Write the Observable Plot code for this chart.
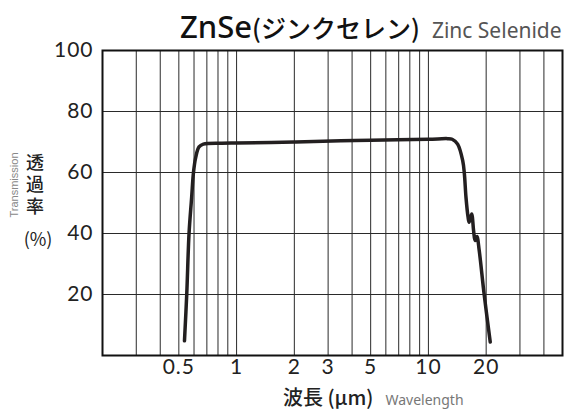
<!DOCTYPE html>
<html><head><meta charset="utf-8">
<script src="https://cdn.jsdelivr.net/npm/d3@7"></script>
<script src="https://cdn.jsdelivr.net/npm/@observablehq/plot@0.6"></script>
<style>body{margin:0;background:#fff} svg{display:block}</style>
</head><body><div id="chart"></div>
<script>
// Transmission curve of ZnSe (wavelength in µm, transmission in %)
const wavelength   = [0.535, 0.550, 0.565, 0.583, 0.596, 0.612, 0.637, 0.671, 0.836, 1.0, 2.0, 3.5, 5.0, 10.0, 12.6, 13.3, 14.2, 15.1, 15.4, 15.7, 16.1, 16.3, 16.8, 17.2, 17.5, 17.9, 18.4, 19.5, 21.0];
const transmission = [4.8, 20.3, 39.9, 51.8, 60.0, 64.9, 68.4, 69.3, 69.6, 69.7, 70.0, 70.4, 70.6, 70.9, 71.1, 70.9, 69.3, 63.8, 59.5, 51.8, 45.3, 43.7, 46.4, 40.9, 37.7, 39.0, 34.4, 20.3, 4.4];
const xTickValues = [0.5, 1, 2, 3, 5, 10, 20];
const xTickLabels = ["0.5", "1", "2", "3", "5", "10", "20"];
const xGridValues = [0.3, 0.4, 0.5, 0.6, 0.7, 0.8, 0.9, 1, 2, 3, 4, 5, 6, 7, 8, 9, 10, 20, 30, 40];
const yTickValues = [20, 40, 60, 80, 100];
const yTickLabels = ["20", "40", "60", "80", "100"];
const yGridValues = [20, 40, 60, 80];

const data = wavelength.map((w, i) => ({w, t: transmission[i]}));
const numFont = "Lato, 'Noto Sans', sans-serif";

const svg = Plot.plot({
  width: 569,
  height: 412,
  marginTop: 50,
  marginLeft: 102,
  marginRight: 7,
  marginBottom: 57,
  style: {fontFamily: numFont, color: "#222", background: "#fff"},
  x: {type: "log", domain: [0.2, 50], axis: null},
  y: {domain: [0, 100], axis: null},
  marks: [
    Plot.ruleX(xGridValues, {stroke: "#2a2a2a", strokeWidth: 1}),
    Plot.ruleY(yGridValues, {stroke: "#2a2a2a", strokeWidth: 1}),
    Plot.line(data, {x: "w", y: "t", stroke: "#231f20", strokeWidth: 3.5, curve: "catmull-rom", strokeLinejoin: "round", strokeLinecap: "round"}),
    Plot.frame({stroke: "#111", strokeWidth: 2}),
    Plot.text(xTickValues, {x: (d) => d, text: (d, i) => xTickLabels[i], frameAnchor: "bottom", dy: 18, fontSize: 21, fill: "#222", className: "ticklbl"}),
    Plot.text(yTickValues, {y: (d) => d, text: (d, i) => yTickLabels[i], frameAnchor: "left", dx: -9, textAnchor: "end", fontSize: 21, fill: "#222", className: "ticklbl"})
  ]
});

const s = d3.select(svg);
s.selectAll(".ticklbl text").style("letter-spacing", "1px");
const jp = "'Noto Sans CJK JP', sans-serif";
const sans = "'Noto Sans', sans-serif";
// Title
const t = s.append("text").attr("x", 180).attr("y", 38).attr("text-anchor", "start").attr("fill", "#111");
t.append("tspan").attr("font-family", sans).attr("font-weight", 500).attr("font-size", 31).text("ZnSe");
t.append("tspan").attr("font-family", jp).attr("font-weight", 500).attr("font-size", 25).text("(ジンクセレン)");
t.append("tspan").attr("font-family", sans).attr("font-size", 21).attr("fill", "#555").attr("dx", 12).text("Zinc Selenide");

// Y-axis title
s.append("text").attr("transform", "translate(18,185) rotate(-90)").attr("text-anchor", "middle")
  .attr("font-family", "'Liberation Sans Narrow', 'Liberation Sans', sans-serif").attr("font-size", 11).attr("fill", "#888").text("Transmission");
s.append("text").attr("x", 35).attr("y", 153).attr("text-anchor", "start")
  .style("writing-mode", "vertical-rl").style("letter-spacing", "4px")
  .attr("font-family", jp).attr("font-size", 18).attr("font-weight", 500).attr("fill", "#222").text("透過率");
s.append("text").attr("x", 38).attr("y", 246).attr("text-anchor", "middle")
  .attr("font-family", jp).attr("font-size", 18).attr("fill", "#222").text("(%)");

// X-axis title
const xt = s.append("text").attr("x", 283).attr("y", 405).attr("text-anchor", "start").attr("fill", "#222");
xt.append("tspan").attr("font-family", jp).attr("font-size", 20).attr("font-weight", 500).text("波長 (μm)");
xt.append("tspan").attr("font-family", sans).attr("font-size", 14).attr("fill", "#777").attr("dx", 12).text("Wavelength");

document.getElementById("chart").appendChild(svg);
</script>
</body></html>
